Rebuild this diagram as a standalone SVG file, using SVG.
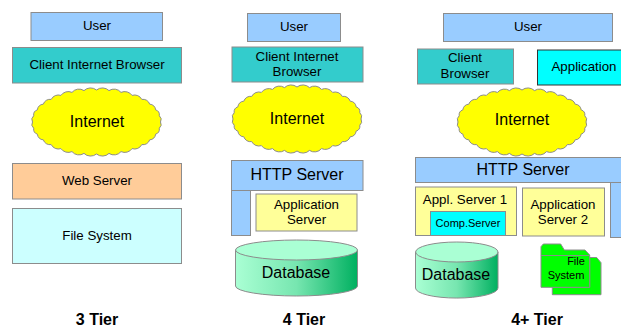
<svg xmlns="http://www.w3.org/2000/svg" xmlns:xlink="http://www.w3.org/1999/xlink" width="621" height="327" viewBox="0 0 621 327">
<style>
text{font-family:"Liberation Sans",Arial,sans-serif;fill:#000;text-anchor:middle}
.b{stroke:#8c8c8c;stroke-width:1}
.user{fill:#99ccff}
.teal{fill:#33cccc}
.yel{fill:#ffff99}
.t14{font-size:13.300px}
.t16{font-size:16px}
.t11{font-size:11px}
.title{font-size:16px;font-weight:bold}
</style>
<defs>
<linearGradient id="g" x1="0" x2="1" y1="0" y2="0"><stop offset="0" stop-color="#aaffd4"/><stop offset="0.5" stop-color="#77e6b0"/><stop offset="1" stop-color="#00b060"/></linearGradient>
<path id="cloud" fill="#ffff00" stroke="#8c8c8c" stroke-width="1" d="M64 0A5 5 0 0 1 62.800 6.200A5.500 5.500 0 0 1 59.100 12.200A6 6 0 0 1 53.200 17.800A7 7 0 0 1 45.300 22.600A8 8 0 0 1 35.600 26.600A9 9 0 0 1 24.500 29.600A9 9 0 0 1 12.500 31.400A9.500 9.500 0 0 1 0 32A9.500 9.500 0 0 1 -12.500 31.400A9 9 0 0 1 -24.500 29.600A9 9 0 0 1 -35.600 26.600A8 8 0 0 1 -45.300 22.600A7 7 0 0 1 -53.200 17.800A6 6 0 0 1 -59.100 12.200A5.500 5.500 0 0 1 -62.800 6.200A5 5 0 0 1 -64 0A5 5 0 0 1 -62.800 -6.200A5.500 5.500 0 0 1 -59.100 -12.200A6 6 0 0 1 -53.200 -17.800A7 7 0 0 1 -45.300 -22.600A8 8 0 0 1 -35.600 -26.600A9 9 0 0 1 -24.500 -29.600A9 9 0 0 1 -12.500 -31.400A9.500 9.500 0 0 1 0 -32A9.500 9.500 0 0 1 12.500 -31.400A9 9 0 0 1 24.500 -29.600A9 9 0 0 1 35.600 -26.600A8 8 0 0 1 45.300 -22.600A7 7 0 0 1 53.200 -17.800A6 6 0 0 1 59.100 -12.200A5.500 5.500 0 0 1 62.800 -6.200A5 5 0 0 1 64 0Z"/>
</defs>
<rect width="621" height="327" fill="#fff"/>

<g id="connectors"></g>

<g id="user-3"><rect class="b user" x="31" y="12.500" width="131.500" height="28"/><text class="t14" x="97" y="30">User</text></g>
<g id="client-3"><rect class="b teal" x="12.500" y="47.500" width="169" height="35.500"/><text class="t14" x="97" y="69">Client Internet Browser</text></g>
<g id="internet-3"><use xlink:href="#cloud" href="#cloud" x="96.500" y="122"/><text class="t16" x="97" y="127">Internet</text></g>
<g id="web-3"><rect class="b" fill="#ffcc99" x="12.500" y="163.500" width="169" height="35.500"/><text class="t14" x="97" y="185">Web Server</text></g>
<g id="file-3"><rect class="b" fill="#ccffff" x="12.500" y="208.500" width="169" height="55"/><text class="t14" x="97" y="240">File System</text></g>
<text class="title" x="97" y="325">3 Tier</text>

<g id="user-4"><rect class="b user" x="247.500" y="13.500" width="93" height="28"/><text class="t14" x="294" y="31">User</text></g>
<g id="client-4"><rect class="b teal" x="232" y="47" width="131" height="35"/><text class="t14" x="297" y="61">Client Internet</text><text class="t14" x="297" y="76">Browser</text></g>
<g id="internet-4"><use xlink:href="#cloud" href="#cloud" x="297" y="119"/><text class="t16" x="297" y="124">Internet</text></g>
<g id="http-4"><rect class="b user" x="231.500" y="190.500" width="19" height="45"/><rect class="b user" x="231.500" y="160.500" width="131.500" height="30"/><text class="t16" x="297" y="180">HTTP Server</text></g>
<g id="app-4"><rect class="b yel" x="256" y="194" width="101" height="37"/><text class="t14" x="306.500" y="209">Application</text><text class="t14" x="306.500" y="224">Server</text></g>
<g id="db-4"><path class="b" fill="url(#g)" d="M235.500 250V286A61 10 0 0 0 357.500 286V250Z"/><ellipse class="b" fill="#aaffd4" cx="296.500" cy="250" rx="61" ry="10"/><text class="t16" x="296" y="278">Database</text></g>
<text class="title" x="304" y="325">4 Tier</text>

<g id="user-4p"><rect class="b user" x="443.500" y="13.500" width="169" height="28"/><text class="t14" x="528" y="31">User</text></g>
<g id="client-4p"><rect class="b teal" x="417.500" y="49" width="96" height="35"/><text class="t14" x="465" y="62">Client</text><text class="t14" x="465" y="78">Browser</text></g>
<g id="application-4p"><rect fill="#00ffff" stroke="#333" x="537.500" y="50" width="90" height="35"/><text class="t14" x="584" y="71">Application</text></g>
<g id="internet-4p"><use xlink:href="#cloud" href="#cloud" x="522" y="122"/><text class="t16" x="522" y="125">Internet</text></g>
<g id="http-4p"><rect class="b user" x="610.500" y="182.500" width="20" height="55"/><rect class="b user" x="415.500" y="157.500" width="214" height="25"/><text class="t16" x="523" y="175">HTTP Server</text></g>
<g id="appl1"><rect class="b yel" x="415.500" y="187" width="101" height="48.500"/><text class="t14" x="465" y="204">Appl. Server 1</text></g>
<g id="comp"><rect class="b" fill="#00ffff" x="430.500" y="211.500" width="75" height="24"/><text class="t11" x="468" y="227">Comp.Server</text></g>
<g id="appl2"><rect class="b yel" x="522.500" y="188" width="82" height="48"/><text class="t14" x="563" y="209">Application</text><text class="t14" x="563" y="224">Server 2</text></g>
<g id="db-4p"><path class="b" fill="url(#g)" d="M415.500 252V288A41 10 0 0 0 498 288V252Z"/><ellipse class="b" fill="#aaffd4" cx="456.800" cy="252" rx="41.200" ry="10"/><text class="t16" x="456" y="280">Database</text></g>
<g id="files"><path class="b" fill="#00ff00" d="M589.700 257.500H596.700L601 262.700V294.700H552.300V287.300H589.700Z"/><path class="b" fill="#00ff00" d="M541 287.300V246.700L543.300 244H560.700L564.300 250H585L589.700 255V287.300ZM541 255.500H589.700"/><text class="t11" x="576" y="265">File</text><text class="t11" x="566" y="279">System</text></g>
<text class="title" x="537" y="325">4+ Tier</text>
</svg>
